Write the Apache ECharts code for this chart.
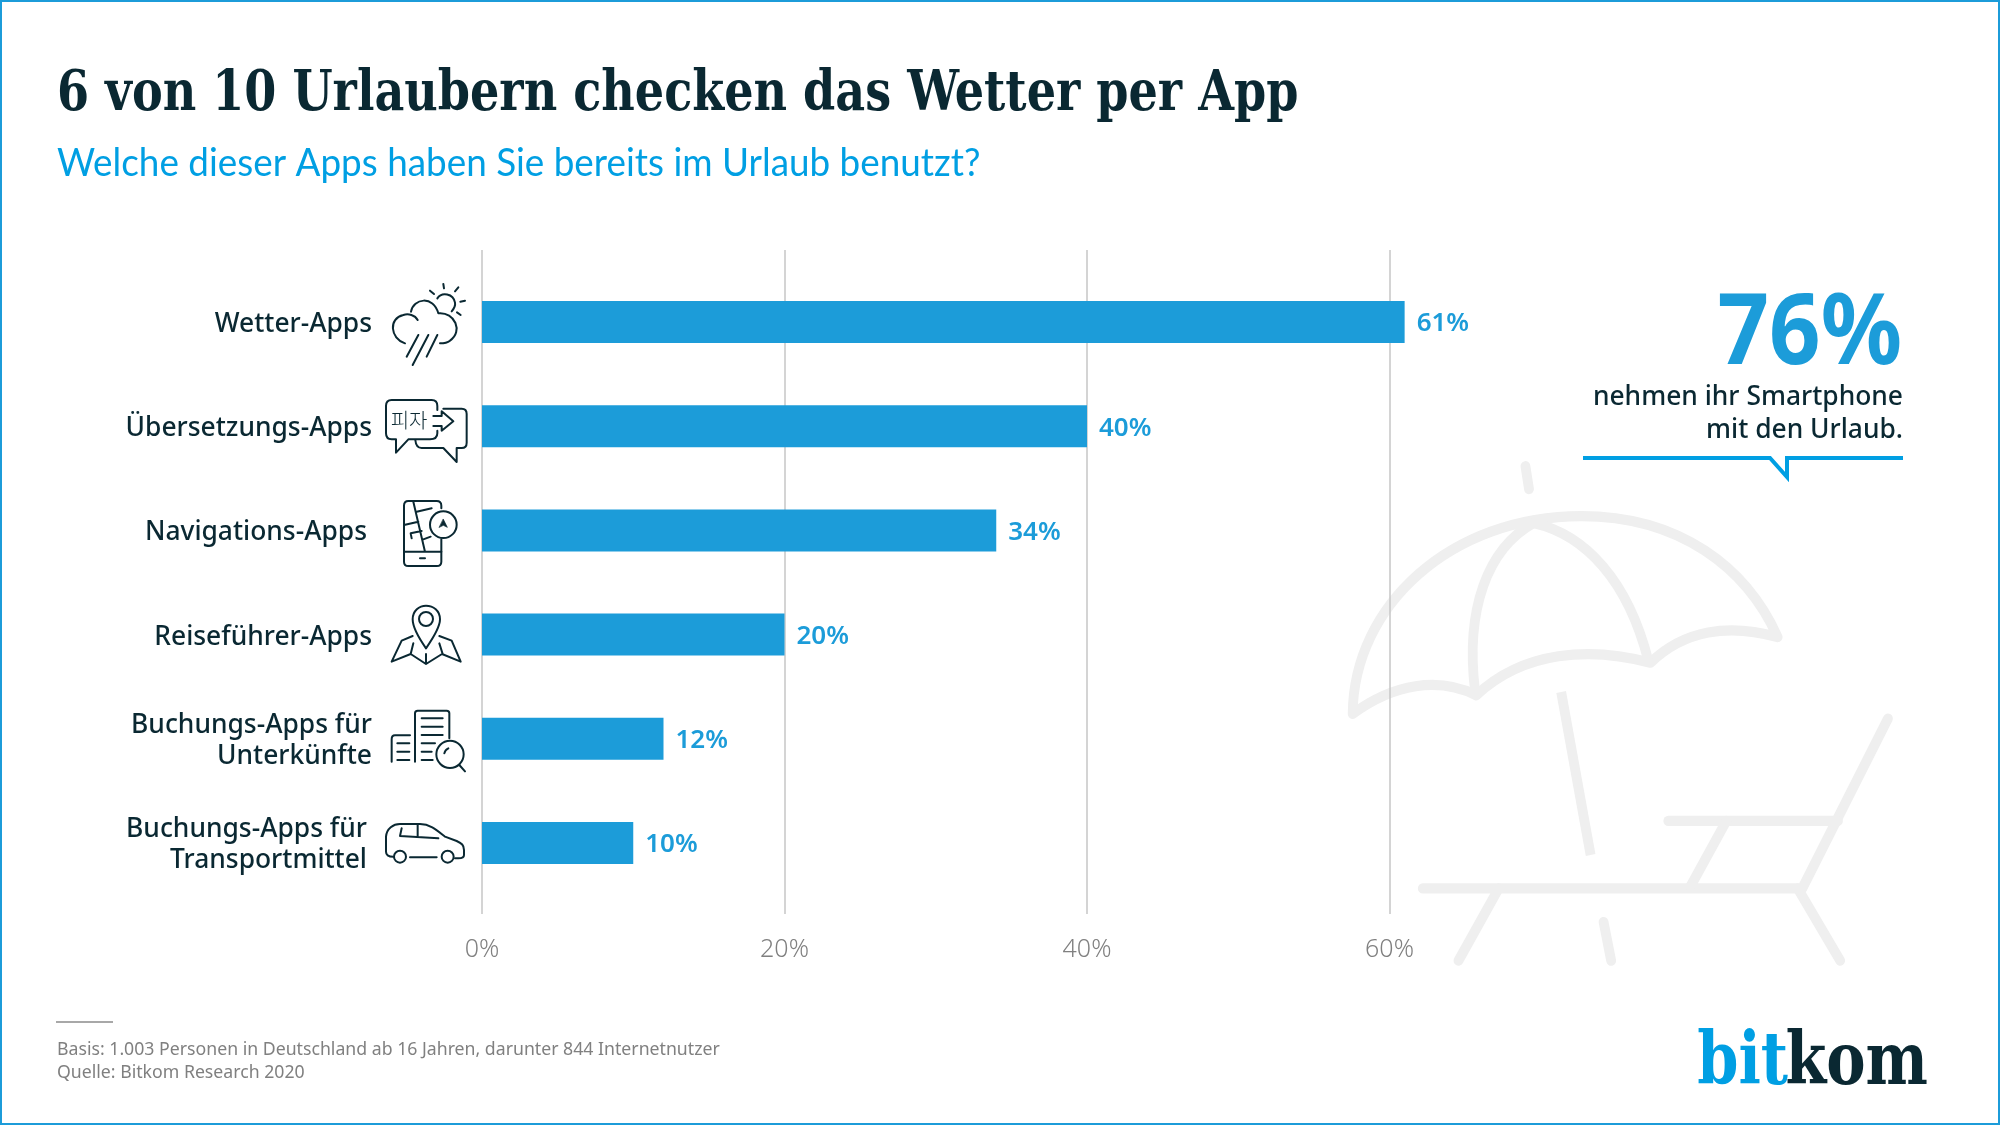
<!DOCTYPE html>
<html lang="de">
<head>
<meta charset="utf-8">
<title>6 von 10 Urlaubern checken das Wetter per App</title>
<style>
	html, body { margin: 0; padding: 0; background: #fff; }
	#chartWrapper { width: 2000px; height: 1125px; }
</style>
<script src="https://cdn.jsdelivr.net/npm/echarts@6/dist/echarts.min.js"></script>
</head>
<body>
<div id="chartWrapper"></div>
<script>
const categories = ["Wetter-Apps", "Übersetzungs-Apps", "Navigations-Apps", "Reiseführer-Apps", "Buchungs-Apps für\nUnterkünfte", "Buchungs-Apps für\nTransportmittel"];
const values = [61, 40, 34, 20, 12, 10];
const shiftedLabels = ["Navigations-Apps", "Buchungs-Apps für\nTransportmittel"]; // stehen etwas weiter links
const xTicks = [0, 20, 40, 60];
const titleText = "6 von 10 Urlaubern checken das Wetter per App";
const subtitleText = "Welche dieser Apps haben Sie bereits im Urlaub benutzt?";
const calloutValue = "76%";
const calloutLines = ["nehmen ihr Smartphone", "mit den Urlaub."];
const footerLines = ["Basis: 1.003 Personen in Deutschland ab 16 Jahren, darunter 844 Internetnutzer", "Quelle: Bitkom Research 2020"];

const DARK = "#0a2832";
const BLUE = "#1c9cd9";
const LIGHT_BLUE = "#009fe3";
const SANS = "'Noto Sans', sans-serif";
const SLAB = "'DejaVu Serif Condensed', 'DejaVu Serif'";

const myChart = echarts.init(document.getElementById("chartWrapper"), null, { renderer: "canvas" });

// Zeichenpfad als Grafik-Element (Dekoration, keine Daten)
let shapeNo = 0;
function deco(d, stroke, lineWidth, extra) {
	const name = "deco" + shapeNo++;
	echarts.graphic.registerShape(name, echarts.graphic.extendPath(d));
	return {
		type: name,
		silent: true,
		style: Object.assign({ fill: "none", stroke: stroke, lineWidth: lineWidth, lineCap: "round", lineJoin: "round" }, extra || {}),
	};
}
function ring(cx, cy, r, stroke, lineWidth) {
	return { type: "circle", silent: true, shape: { cx: cx, cy: cy, r: r }, style: { fill: "none", stroke: stroke, lineWidth: lineWidth } };
}
// y = Mitte der Textzeile
function label(text, x, y, align, font, fill, scaleX) {
	return { type: "text", silent: true, x: x, y: y, scaleX: scaleX || 1, style: { text: text, align: align, verticalAlign: "middle", font: font, fill: fill } };
}

// Koordinaten der Icons aus 3x-Ausschnitten
function icons3x(originY, children) {
	return { type: "group", x: 100, y: originY, scaleX: 1 / 3, scaleY: 1 / 3, silent: true, children: children };
}
const W = 6;
const weatherIcon = icons3x(250, [
	deco("M1012,145 C1025,125 1060,130 1065,158 C1067,168 1062,176 1055,184", DARK, W),
	deco("M1030,102 L1032,115 M1075,112 L1065,124 M1095,152 L1081,155 M1082,195 L1071,187 M990,122 L1002,132", DARK, W),
	deco("M915,280 C870,265 865,205 910,195 C925,190 945,195 953,210 M933,185 C940,145 1000,135 1015,190 C1065,185 1090,245 1050,272 C1040,280 1030,280 1020,280", DARK, W),
	deco("M955,255 L920,320 M985,255 L938,345 M1012,255 L980,320", DARK, W),
]);
const translateIcon = icons3x(250, [
	deco("M1012,480 V468 Q1012,450 995,450 H875 Q858,450 858,468 V550 Q858,568 875,568 H888 V608 L925,568 H990 Q1012,568 1012,550 V542", DARK, W),
	deco("M1030,476 H1085 Q1100,476 1100,492 V578 Q1100,594 1085,594 H1070 V636 L1030,594 H965 Q948,594 946,570", DARK, W),
	deco("M1000,498 H1025 V484 L1060,514 L1025,542 V528 H1000", DARK, W),
	{ type: "text", silent: true, x: 872, y: 510, style: { text: "피자", font: "300 60px 'Noto Sans CJK KR'", fill: DARK, verticalAlign: "middle" } },
]);
const naviIcon = icons3x(250, [
	deco("M1024,775 V767 Q1024,753 1010,753 H925 Q912,753 912,767 V935 Q912,948 925,948 H1010 Q1024,948 1024,935 V868", DARK, W),
	deco("M912,905 H1024 M960,925 H975 M940,755 L975,905 M950,785 L995,775 M912,825 L955,815 M935,865 L932,850 L965,843 M970,868 L992,860", DARK, W),
	ring(1030, 824, 40, DARK, W),
	deco("M1030,808 L1042,832 L1030,826 L1018,832 Z", DARK, 2, { fill: DARK }),
]);
const guideIcon = icons3x(580, [
	deco("M978,205 C950,165 938,140 938,118 C938,92 958,77 978,77 C1000,77 1020,92 1020,118 C1020,140 1006,165 978,205 Z", DARK, W),
	ring(978, 117, 21, DARK, W),
	deco("M938,168 L905,182 L875,245 L932,222 L978,252 L1026,222 L1082,245 L1055,182 L1018,168 M940,190 L932,222 M1018,190 L1028,222 M978,222 V252", DARK, W),
]);
const hotelIcon = icons3x(580, [
	deco("M945,545 V400 Q945,392 953,392 H1040 Q1048,392 1048,400 V475", DARK, W),
	deco("M965,415 H1028 M965,440 H1028 M965,465 H1028 M965,490 H1005 M965,515 H995 M965,540 H998", DARK, W),
	deco("M875,545 V478 Q875,466 885,466 H930 M892,490 H928 M892,515 H928 M892,540 H928", DARK, W),
	ring(1050, 523, 41, DARK, W),
	deco("M1078,555 L1095,574 M1033,520 Q1035,510 1045,505", DARK, W),
]);
const carIcon = icons3x(580, [
	deco("M880,830 Q858,830 858,815 V770 C860,745 880,732 900,732 H960 C990,732 1010,750 1035,770 L1070,783 C1085,790 1092,795 1092,810 V825 Q1092,835 1075,835 H1065", DARK, W),
	ring(900, 830, 18, DARK, W),
	ring(1043, 830, 18, DARK, W),
	deco("M930,832 H1010 M905,745 L900,768 L1015,775 M953,735 V770", DARK, W),
]);

// Sonnenschirm und Liege im Hintergrund
const GREY = "#efefef";
const T = 22;
const beachIcon = {
	type: "group", x: 1300, y: 260, scaleX: 1 / 2.24, scaleY: 1 / 2.148, silent: true, z: 0,
	children: [
		deco("M505,443 L513,492", GREY, T),
		deco("M118,975 C120,740 340,550 630,550 C850,550 1000,660 1070,810 C960,780 860,795 785,865 C650,830 500,840 395,935 C310,895 210,910 118,975 Z", GREY, T),
		deco("M523,565 C420,620 370,750 392,925", GREY, T),
		deco("M523,565 C640,590 735,690 780,860", GREY, T),
		deco("M585,928 L651,1278", GREY, T, { lineCap: "butt" }),
		deco("M680,1422 L697,1505", GREY, T),
		deco("M275,1350 H1125 L1317,985", GREY, T),
		deco("M825,1205 H1205", GREY, T),
		deco("M955,1205 L875,1345", GREY, T),
		deco("M445,1350 L355,1505", GREY, T),
		deco("M1115,1350 L1210,1505", GREY, T),
	],
};

let option = {
	animation: false,
	backgroundColor: "#fff",
	// grid 0 zeichnet Raster und Achse, grid 1 die Balken
	grid: [
		{ left: 482, top: 250, width: 1210, height: 664 },
		{ left: 482, top: 270, width: 1210, height: 625 },
	],
	xAxis: [
		{
			gridIndex: 0, type: "value", min: 0, max: 80, interval: 20,
			axisLine: { show: false }, axisTick: { show: false },
			splitLine: { show: true, showMaxLine: false, lineStyle: { color: "#c6c6c6", width: 1.5 } },
			axisLabel: {
				showMaxLabel: false, margin: 23,
				formatter: (v) => xTicks.includes(v) ? v + "%" : "",
				fontFamily: SANS, fontWeight: 300, fontSize: 25, color: "#808080",
			},
		},
		{ gridIndex: 1, type: "value", min: 0, max: 80, show: false },
	],
	yAxis: [
		{ gridIndex: 0, type: "category", data: categories, show: false },
		{
			gridIndex: 1, type: "category", data: categories, inverse: true,
			axisLine: { show: false }, axisTick: { show: false }, splitLine: { show: false },
			axisLabel: {
				margin: 110,
				align: "right",
				formatter: (v) => v.split("\n").map((line) => `{${shiftedLabels.includes(v) ? "s" : "n"}|${line}}`).join("\n"),
				rich: {
					n: { fontFamily: SANS, fontWeight: 500, fontSize: 26.4, lineHeight: 31, color: DARK, padding: [5, 0, 0, 0] },
					s: { fontFamily: SANS, fontWeight: 500, fontSize: 26.4, lineHeight: 31, color: DARK, padding: [5, 5, 0, 0] },
				},
			},
		},
	],
	series: [
		{
			type: "bar", xAxisIndex: 1, yAxisIndex: 1, data: values,
			barWidth: 42, z: 3,
			itemStyle: { color: BLUE },
			label: {
				show: true, position: "right", distance: 12, offset: [0, 2], formatter: "{c}%",
				fontFamily: SANS, fontWeight: 600, fontSize: 26, color: BLUE,
			},
		},
	],
	graphic: {
		elements: [
			{ type: "rect", silent: true, z: -10, shape: { x: 1, y: 1, width: 1998, height: 1123 }, style: { fill: "none", stroke: BLUE, lineWidth: 2 } },
			beachIcon,
			label(titleText, 57, 95.5, "left", `700 56px ${SLAB}`, DARK, 0.915),
			label(subtitleText, 57, 164, "left", "400 38px Lato", LIGHT_BLUE, 0.97),
			weatherIcon, translateIcon, naviIcon, guideIcon, hotelIcon, carIcon,
			label(calloutValue, 1902, 336, "right", `700 98px ${SANS}`, BLUE, 0.92),
			label(calloutLines[0], 1903, 397.5, "right", `500 26.4px ${SANS}`, DARK),
			label(calloutLines[1], 1903, 430.5, "right", `500 26.4px ${SANS}`, DARK),
			deco("M1583,458 H1770 L1787,477 V458 H1903", LIGHT_BLUE, 4, { lineCap: "butt", lineJoin: "miter" }),
			{ type: "rect", silent: true, shape: { x: 56, y: 1021, width: 57, height: 2 }, style: { fill: "#a8a8a8" } },
			label(footerLines[0], 57, 1050, "left", `400 17.7px ${SANS}`, "#808080"),
			label(footerLines[1], 57, 1073, "left", `400 17.7px ${SANS}`, "#808080"),
			label("bit", 1788, 1065, "right", `700 72px ${SLAB}`, LIGHT_BLUE, 0.91),
			label("kom", 1928, 1065, "right", `700 72px ${SLAB}`, DARK, 0.91),
		],
	},
};

myChart.setOption(option);
</script>
</body>
</html>
